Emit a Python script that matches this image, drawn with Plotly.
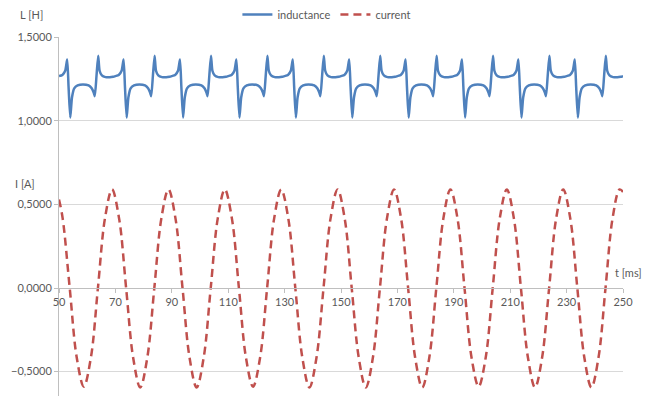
import plotly.graph_objects as go

# ---- data ----
ind_t = [
    50, 51.2, 52.2, 52.9, 53.4, 54.0, 54.6, 55.4, 56.6, 58.5, 60.5, 61.6, 62.3, 62.7, 63.3, 63.9, 64.4, 65.2, 66.5, 68.0, 69.2,
    70, 71.2, 72.2, 72.9, 73.4, 74.0, 74.6, 75.4, 76.6, 78.5, 80.5, 81.6, 82.3, 82.7, 83.3, 83.9, 84.4, 85.2, 86.5, 88.0, 89.2,
    90, 91.2, 92.2, 92.9, 93.4, 94.0, 94.6, 95.4, 96.6, 98.5, 100.5, 101.6, 102.3, 102.7, 103.3, 103.9, 104.4, 105.2, 106.5, 108.0, 109.2,
    110, 111.2, 112.2, 112.9, 113.4, 114.0, 114.6, 115.4, 116.6, 118.5, 120.5, 121.6, 122.3, 122.7, 123.3, 123.9, 124.4, 125.2, 126.5, 128.0, 129.2,
    130, 131.2, 132.2, 132.9, 133.4, 134.0, 134.6, 135.4, 136.6, 138.5, 140.5, 141.6, 142.3, 142.7, 143.3, 143.9, 144.4, 145.2, 146.5, 148.0, 149.2,
    150, 151.2, 152.2, 152.9, 153.4, 154.0, 154.6, 155.4, 156.6, 158.5, 160.5, 161.6, 162.3, 162.7, 163.3, 163.9, 164.4, 165.2, 166.5, 168.0, 169.2,
    170, 171.2, 172.2, 172.9, 173.4, 174.0, 174.6, 175.4, 176.6, 178.5, 180.5, 181.6, 182.3, 182.7, 183.3, 183.9, 184.4, 185.2, 186.5, 188.0, 189.2,
    190, 191.2, 192.2, 192.9, 193.4, 194.0, 194.6, 195.4, 196.6, 198.5, 200.5, 201.6, 202.3, 202.7, 203.3, 203.9, 204.4, 205.2, 206.5, 208.0, 209.2,
    210, 211.2, 212.2, 212.9, 213.4, 214.0, 214.6, 215.4, 216.6, 218.5, 220.5, 221.6, 222.3, 222.7, 223.3, 223.9, 224.4, 225.2, 226.5, 228.0, 229.2,
    230, 231.2, 232.2, 232.9, 233.4, 234.0, 234.6, 235.4, 236.6, 238.5, 240.5, 241.6, 242.3, 242.7, 243.3, 243.9, 244.4, 245.2, 246.5, 248.0, 249.2,
    250,
]
ind_L = [
    1.268, 1.275, 1.30, 1.368, 1.20, 1.02, 1.14, 1.195, 1.212, 1.218, 1.212, 1.195, 1.17, 1.148, 1.27, 1.39, 1.30, 1.272, 1.262, 1.261, 1.264,
    1.268, 1.275, 1.30, 1.368, 1.20, 1.02, 1.14, 1.195, 1.212, 1.218, 1.212, 1.195, 1.17, 1.148, 1.27, 1.39, 1.30, 1.272, 1.262, 1.261, 1.264,
    1.268, 1.275, 1.30, 1.368, 1.20, 1.02, 1.14, 1.195, 1.212, 1.218, 1.212, 1.195, 1.17, 1.148, 1.27, 1.39, 1.30, 1.272, 1.262, 1.261, 1.264,
    1.268, 1.275, 1.30, 1.368, 1.20, 1.02, 1.14, 1.195, 1.212, 1.218, 1.212, 1.195, 1.17, 1.148, 1.27, 1.39, 1.30, 1.272, 1.262, 1.261, 1.264,
    1.268, 1.275, 1.30, 1.368, 1.20, 1.02, 1.14, 1.195, 1.212, 1.218, 1.212, 1.195, 1.17, 1.148, 1.27, 1.39, 1.30, 1.272, 1.262, 1.261, 1.264,
    1.268, 1.275, 1.30, 1.368, 1.20, 1.02, 1.14, 1.195, 1.212, 1.218, 1.212, 1.195, 1.17, 1.148, 1.27, 1.39, 1.30, 1.272, 1.262, 1.261, 1.264,
    1.268, 1.275, 1.30, 1.368, 1.20, 1.02, 1.14, 1.195, 1.212, 1.218, 1.212, 1.195, 1.17, 1.148, 1.27, 1.39, 1.30, 1.272, 1.262, 1.261, 1.264,
    1.268, 1.275, 1.30, 1.368, 1.20, 1.02, 1.14, 1.195, 1.212, 1.218, 1.212, 1.195, 1.17, 1.148, 1.27, 1.39, 1.30, 1.272, 1.262, 1.261, 1.264,
    1.268, 1.275, 1.30, 1.368, 1.20, 1.02, 1.14, 1.195, 1.212, 1.218, 1.212, 1.195, 1.17, 1.148, 1.27, 1.39, 1.30, 1.272, 1.262, 1.261, 1.264,
    1.268, 1.275, 1.30, 1.368, 1.20, 1.02, 1.14, 1.195, 1.212, 1.218, 1.212, 1.195, 1.17, 1.148, 1.27, 1.39, 1.30, 1.272, 1.262, 1.261, 1.264,
    1.268,
]

cur_t = [
    50,
    51.3, 53.8, 56.3, 58.8, 61.3, 63.8, 66.3, 68.8,
    71.3, 73.8, 76.3, 78.8, 81.3, 83.8, 86.3, 88.8,
    91.3, 93.8, 96.3, 98.8, 101.3, 103.8, 106.3, 108.8,
    111.3, 113.8, 116.3, 118.8, 121.3, 123.8, 126.3, 128.8,
    131.3, 133.8, 136.3, 138.8, 141.3, 143.8, 146.3, 148.8,
    151.3, 153.8, 156.3, 158.8, 161.3, 163.8, 166.3, 168.8,
    171.3, 173.8, 176.3, 178.8, 181.3, 183.8, 186.3, 188.8,
    191.3, 193.8, 196.3, 198.8, 201.3, 203.8, 206.3, 208.8,
    211.3, 213.8, 216.3, 218.8, 221.3, 223.8, 226.3, 228.8,
    231.3, 233.8, 236.3, 238.8, 241.3, 243.8, 246.3, 248.8,
    250,
]
cur_I = [
    0.53,
    0.417, 0.0, -0.417, -0.59, -0.417, 0.0, 0.417, 0.59,
    0.417, 0.0, -0.417, -0.595, -0.417, 0.0, 0.417, 0.59,
    0.417, 0.0, -0.417, -0.595, -0.417, 0.0, 0.417, 0.59,
    0.417, 0.0, -0.417, -0.59, -0.417, 0.0, 0.417, 0.59,
    0.417, 0.0, -0.417, -0.595, -0.417, 0.0, 0.417, 0.59,
    0.417, 0.0, -0.417, -0.595, -0.417, 0.0, 0.417, 0.59,
    0.417, 0.0, -0.417, -0.595, -0.417, 0.0, 0.417, 0.59,
    0.417, 0.0, -0.417, -0.59, -0.417, 0.0, 0.417, 0.59,
    0.417, 0.0, -0.417, -0.595, -0.417, 0.0, 0.417, 0.59,
    0.417, 0.0, -0.417, -0.595, -0.417, 0.0, 0.417, 0.59,
    0.575,
]

x_ticks = [50, 70, 90, 110, 130, 150, 170, 190, 210, 230, 250]
y_ticks = [-0.5, 0.0, 0.5, 1.0, 1.5]

FONT = "Lato, 'Open Sans', sans-serif"
TXT = "#595959"
AX = "#BFBFBF"
GRID = "#D9D9D9"

y_lo, y_hi = -0.646, 1.502

fig = go.Figure()
fig.add_trace(go.Scatter(
    x=ind_t, y=ind_L, name="inductance", mode="lines",
    line=dict(color="#4F81BD", width=2.5, shape="spline", smoothing=0.6),
))
fig.add_trace(go.Scatter(
    x=cur_t, y=cur_I, name="current", mode="lines",
    line=dict(color="#C0504D", width=2.5, dash="8px,5px", shape="spline", smoothing=1.0),
))

fig.update_layout(
    width=651, height=396,
    margin=dict(l=59, r=28, t=37, b=0),
    paper_bgcolor="white", plot_bgcolor="white",
    separators=",.",
    font=dict(family=FONT, size=11, color=TXT),
    showlegend=True,
    legend=dict(orientation="h", x=0.475, xanchor="center", y=1.064, yanchor="middle",
                font=dict(family=FONT, size=11, color=TXT), bgcolor="rgba(0,0,0,0)",
                itemwidth=30, tracegroupgap=0),
    xaxis=dict(
        range=[50, 250], tickvals=x_ticks, ticktext=[str(v) for v in x_ticks],
        anchor="free", position=(0 - y_lo) / (y_hi - y_lo),
        showline=True, linecolor=AX, linewidth=1,
        ticks="outside", ticklen=4, tickcolor=AX,
        showgrid=False, zeroline=False,
        tickfont=dict(family=FONT, size=11, color=TXT),
    ),
    yaxis=dict(
        range=[y_lo, y_hi], tickvals=y_ticks, tickformat=".4f",
        showline=True, linecolor=AX, linewidth=1,
        ticks="outside", ticklen=4, tickcolor=AX,
        showgrid=True, gridcolor=GRID, gridwidth=1,
        zeroline=False,
        tickfont=dict(family=FONT, size=11, color=TXT),
    ),
    annotations=[
        dict(text="L [H]", xref="paper", yref="paper", x=-0.048, y=1.064,
             xanchor="center", yanchor="middle", showarrow=False,
             font=dict(family=FONT, size=11, color=TXT)),
        dict(text="I [A]", xref="paper", yref="paper", x=-0.06, y=0.593,
             xanchor="center", yanchor="middle", showarrow=False,
             font=dict(family=FONT, size=11, color=TXT)),
        dict(text="t [ms]", xref="paper", yref="paper", x=1.009, y=0.345,
             xanchor="center", yanchor="middle", showarrow=False,
             font=dict(family=FONT, size=11, color=TXT)),
    ],
)

fig.write_html("out.html")
